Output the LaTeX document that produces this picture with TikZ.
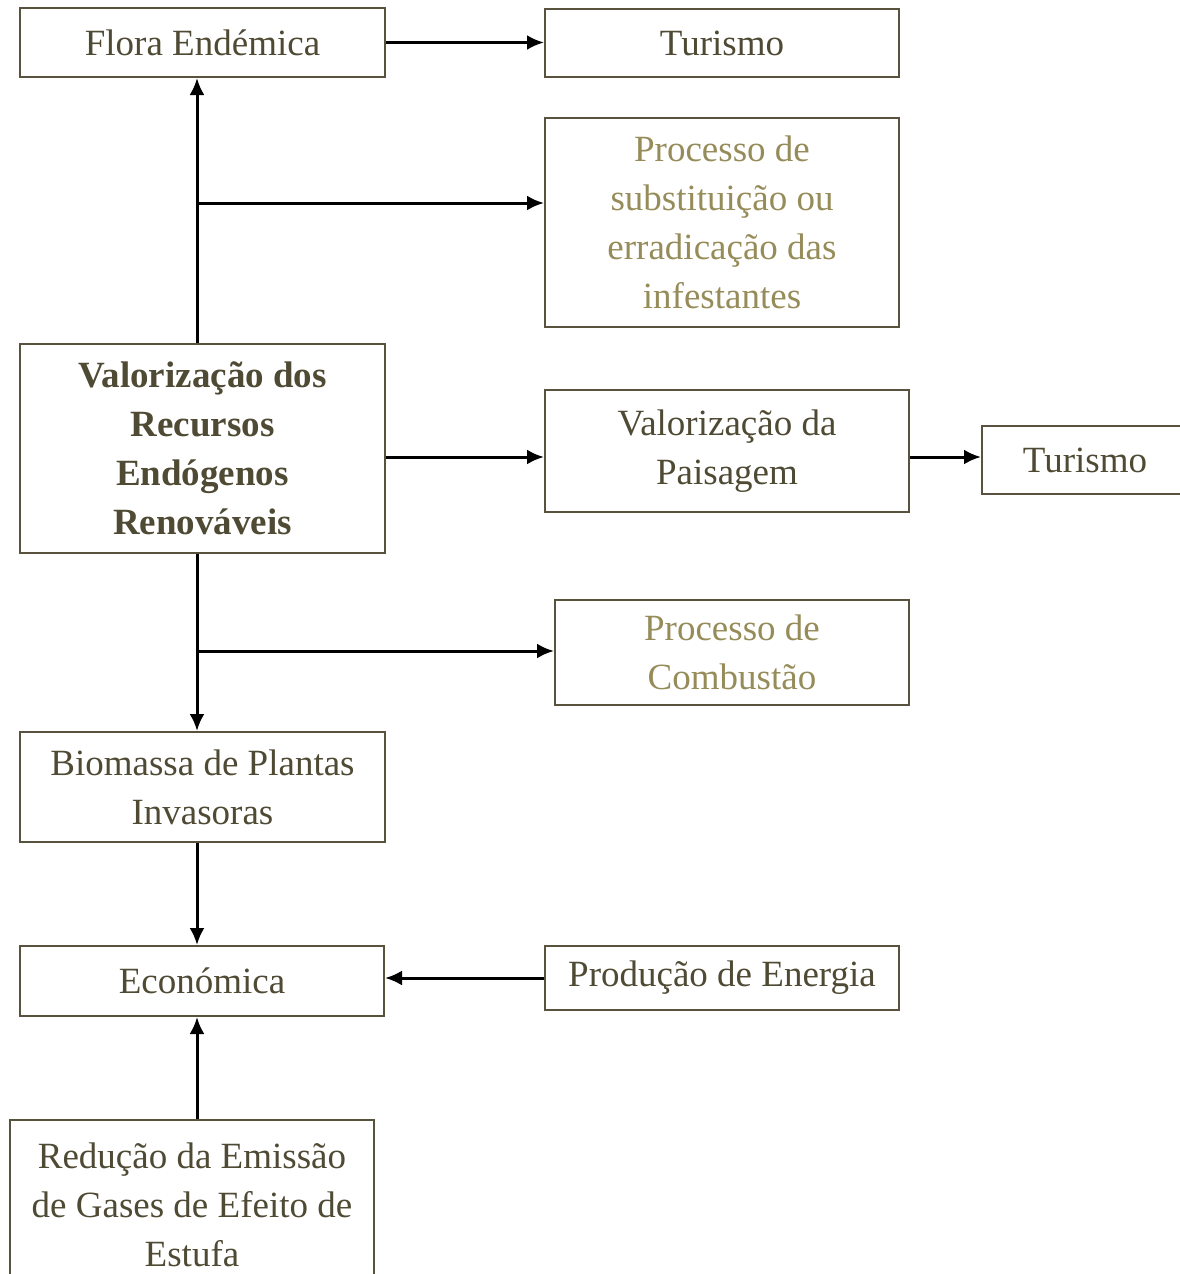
\documentclass[tikz,border=0pt]{standalone}
\usepackage{fontspec}
\setmainfont{Liberation Serif}
\usetikzlibrary{arrows.meta}
\definecolor{olivedark}{RGB}{79,74,52}
\definecolor{olivelight}{RGB}{150,140,90}
\definecolor{boxline}{RGB}{88,82,62}
\tikzset{
  box/.style={draw=boxline, line width=2pt, inner sep=0pt, align=center, text=olivedark, font=\fontsize{37}{49}\selectfont},
  pale/.style={box, text=olivelight},
  arr/.style={-{Latex[length=17pt,width=15pt]}, line width=3pt},
}
\begin{document}
\begin{tikzpicture}[x=1pt, y=-1pt]
    \useasboundingbox (0,0) rectangle (1179,1274);
    % left column
    \node[box, minimum width=365pt, minimum height=69pt] (flora) at (202.5,42.5) {Flora Endémica};
    \node[box, minimum width=365pt, minimum height=209pt, font=\fontsize{37}{49}\selectfont\bfseries] (valor) at (202.5,448.5) {Valorização dos\\Recursos\\Endógenos\\Renováveis};
    \node[box, minimum width=365pt, minimum height=110pt] (biomassa) at (202.5,787) {Biomassa de Plantas\\Invasoras};
    \node[box, minimum width=364pt, minimum height=70pt] (econ) at (202,981) {\raisebox{-8pt}{Económica}};
    \node[box, minimum width=364pt, minimum height=170pt] (reducao) at (192,1205) {Redução da Emissão\\de Gases de Efeito de\\Estufa};
    % right column
    \node[box, minimum width=354pt, minimum height=68pt] (tur1) at (722,43) {Turismo};
    \node[pale, minimum width=354pt, minimum height=209pt] (subst) at (722,222.5) {Processo de\\substituição ou\\erradicação das\\infestantes};
    \node[box, minimum width=364pt, minimum height=122pt] (paisagem) at (727,451) {Valorização da\\Paisagem};
    \node[box, minimum width=206pt, minimum height=68pt] (tur2) at (1085,460) {Turismo};
    \node[pale, minimum width=354pt, minimum height=105pt] (combust) at (732,652.5) {Processo de\\Combustão};
    \node[box, minimum width=354pt, minimum height=64pt] (energia) at (722,978) {Produção de Energia};
    % connectors
    \coordinate (trunk) at (197,0);
    \coordinate (b1) at (197,203);
    \coordinate (b2) at (197,651);
    \coordinate (row) at (0,457);
    \draw[arr] (flora.east) -- (tur1.west |- flora.east);
    \draw[arr] (valor.north -| trunk) -- (flora.south -| trunk);
    \draw[arr] (b1) -- (b1 -| subst.west);
    \draw[arr] (valor.east |- row) -- (paisagem.west |- row);
    \draw[arr] (paisagem.east |- row) -- (tur2.west |- row);
    \draw[arr] (valor.south -| trunk) -- (biomassa.north -| trunk);
    \draw[arr] (b2) -- (b2 -| combust.west);
    \draw[arr] (biomassa.south -| trunk) -- (econ.north -| trunk);
    \draw[arr] (energia.west) -- (econ.east |- energia.west);
    \draw[arr] (reducao.north -| trunk) -- (econ.south -| trunk);
\end{tikzpicture}
\end{document}
